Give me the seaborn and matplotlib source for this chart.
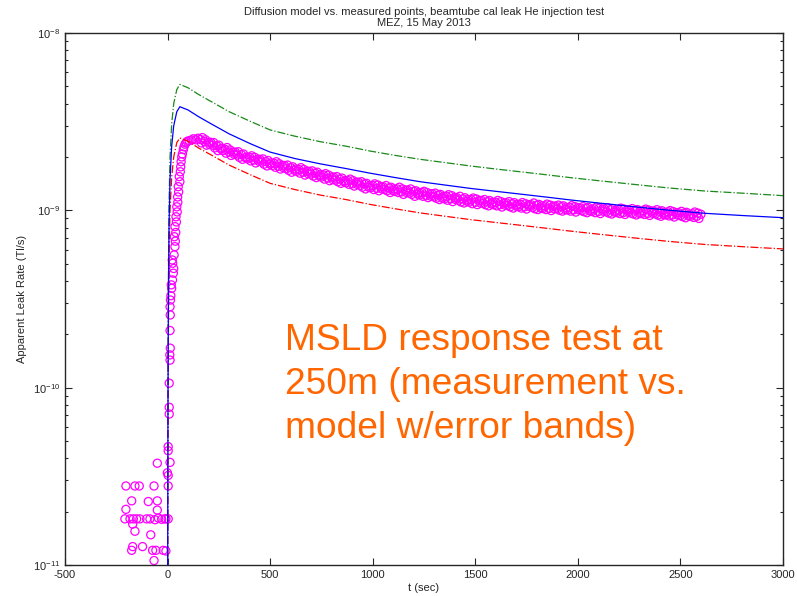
import numpy as np
import pandas as pd
import matplotlib
matplotlib.use("Agg")
import matplotlib.pyplot as plt
import seaborn as sns

# ---------------- data ----------------
# model curves (time in s, leak rate in 1e-9 Tl/s)
model_t = [0, 2, 4, 7, 12, 20, 30, 45, 60, 100, 150, 207, 300, 402, 500, 620,
           743, 870, 987, 1110, 1231, 1350, 1475, 1600, 1719, 1840, 1962,
           2100, 2300, 2450, 2620, 2800, 3000]
model_mid = [0.005, 0.08, 0.30, 0.80, 1.5, 2.3, 3.0, 3.6, 3.84, 3.68, 3.38,
             3.10, 2.70, 2.38, 2.13, 1.96, 1.83, 1.72, 1.62, 1.53, 1.45, 1.39,
             1.33, 1.28, 1.235, 1.19, 1.145, 1.10, 1.04, 1.00, 0.962, 0.935,
             0.909]
model_hi = [0.005, 0.107, 0.40, 1.07, 2.0, 3.07, 4.0, 4.8, 5.13, 4.91, 4.51,
            4.14, 3.60, 3.18, 2.84, 2.62, 2.44, 2.30, 2.16, 2.04, 1.94, 1.86,
            1.78, 1.71, 1.65, 1.59, 1.53, 1.47, 1.39, 1.335, 1.285, 1.25, 1.21]
model_lo = [0.005, 0.054, 0.20, 0.54, 1.0, 1.54, 2.0, 2.41, 2.56, 2.45, 2.25,
            2.07, 1.80, 1.59, 1.42, 1.31, 1.22, 1.15, 1.08, 1.02, 0.967,
            0.927, 0.887, 0.854, 0.824, 0.794, 0.764, 0.734, 0.694, 0.667,
            0.642, 0.624, 0.606]

# measured points before injection (t, value in 1e-11 Tl/s)
pre_t = [-203, -159, -138, -66, 3, -175, -94, -50, -203, -50,
         -208, -183, -167, -151, -135, -102, -86, -61, -45, -29, -13, -8, 3,
         -170, -159, -82, -170, -175, -122, -73, -57, -21, -8, -66,
         -50, 12, -1, 3, 3, 3]
pre_v = [2.79, 2.79, 2.79, 2.79, 2.79, 2.30, 2.28, 2.30, 2.06, 2.04,
         1.82, 1.82, 1.82, 1.82, 1.82, 1.82, 1.82, 1.80, 1.84, 1.81, 1.82, 1.82, 1.82,
         1.70, 1.55, 1.48, 1.27, 1.21, 1.27, 1.21, 1.21, 1.21, 1.20, 1.06,
         3.75, 3.79, 3.31, 3.20, 4.65, 4.41]

# rise (t, value in 1e-9 Tl/s)
rise_t = [8, 8, 8, 12, 11, 13, 12, 13, 12, 14, 16, 18, 20, 24, 28, 30, 25, 23,
          32, 36, 38, 33, 40, 36, 43, 41, 47, 45, 50, 49, 54, 52, 60, 57, 62,
          64, 66, 69, 72, 77, 80, 85, 90, 96, 105, 117, 125, 138, 148]
rise_v = [0.0775, 0.071, 0.106, 0.143, 0.153, 0.167, 0.21, 0.257, 0.286, 0.312,
          0.33, 0.38, 0.363, 0.405, 0.442, 0.47, 0.503, 0.525, 0.56, 0.624,
          0.67, 0.71, 0.75, 0.809, 0.86, 0.92, 0.98, 1.047, 1.11, 1.19, 1.27,
          1.36, 1.45, 1.55, 1.65, 1.76, 1.88, 2.0, 2.08, 2.2, 2.28, 2.36, 2.4,
          2.45, 2.47, 2.49, 2.53, 2.5, 2.55]

# decay, first sample set (t, value in 1e-9 Tl/s)
decay_t = [160, 180, 200, 220, 240, 260, 280, 300, 320, 340, 360, 380, 400,
           420, 440, 460, 480, 500, 520, 540, 560, 580, 600, 620, 640, 660,
           680, 700, 720, 740, 760, 780, 800, 820, 840, 860, 880, 900, 920,
           940, 960, 980, 1000, 1020, 1040, 1060, 1080, 1100, 1120, 1140, 1160,
           1180, 1200, 1220, 1240, 1260, 1280, 1300, 1320, 1340, 1360, 1380,
           1400, 1420, 1440, 1460, 1480, 1500, 1520, 1540, 1560, 1580, 1600,
           1620, 1640, 1660, 1680, 1700, 1720, 1740, 1760, 1780, 1800, 1820,
           1840, 1860, 1880, 1900, 1920, 1940, 1960, 1980, 2000, 2020, 2040,
           2060, 2080, 2100, 2120, 2140, 2160, 2180, 2200, 2220, 2240, 2260,
           2280, 2300, 2320, 2340, 2360, 2380, 2400, 2420, 2440, 2460, 2480,
           2500, 2520, 2540, 2560, 2580, 2600]
decay_v = [2.51, 2.44, 2.42, 2.33, 2.31, 2.22, 2.21, 2.13, 2.13, 2.05, 2.06,
           1.98, 1.99, 1.92, 1.94, 1.87, 1.88, 1.82, 1.84, 1.77, 1.79, 1.72,
           1.74, 1.68, 1.70, 1.64, 1.66, 1.60, 1.62, 1.56, 1.58, 1.52, 1.54,
           1.48, 1.50, 1.45, 1.47, 1.41, 1.44, 1.38, 1.41, 1.35, 1.38, 1.33,
           1.36, 1.31, 1.34, 1.29, 1.32, 1.27, 1.30, 1.25, 1.28, 1.23, 1.26,
           1.21, 1.24, 1.19, 1.22, 1.17, 1.20, 1.16, 1.18, 1.14, 1.16, 1.125,
           1.15, 1.11, 1.135, 1.095, 1.12, 1.085, 1.11, 1.075, 1.10, 1.065,
           1.09, 1.055, 1.08, 1.045, 1.075, 1.04, 1.07, 1.03, 1.06, 1.025,
           1.055, 1.02, 1.05, 1.01, 1.04, 1.005, 1.035, 0.995, 1.03, 0.99,
           1.02, 0.985, 1.015, 0.98, 1.01, 0.975, 1.005, 0.97, 1.005, 0.965,
           1.00, 0.96, 0.995, 0.96, 0.99, 0.955, 0.985, 0.945, 0.98, 0.94,
           0.97, 0.935, 0.965, 0.93, 0.955, 0.925, 0.95]

# decay, second (interleaved) sample set (t, value in 1e-9 Tl/s)
decay2_t = [170, 190, 210, 230, 250, 270, 290, 310, 330, 350, 370, 390, 410,
            430, 450, 470, 490, 510, 530, 550, 570, 590, 610, 630, 650, 670,
            690, 710, 730, 750, 770, 790, 810, 830, 850, 870, 890, 910, 930,
            950, 970, 990, 1010, 1030, 1050, 1070, 1090, 1110, 1130, 1150,
            1170, 1190, 1210, 1230, 1250, 1270, 1290, 1310, 1330, 1350, 1370,
            1390, 1410, 1430, 1450, 1470, 1490, 1510, 1530, 1550, 1570, 1590,
            1610, 1630, 1650, 1670, 1690, 1710, 1730, 1750, 1770, 1790, 1810,
            1830, 1850, 1870, 1890, 1910, 1930, 1950, 1970, 1990, 2010, 2030,
            2050, 2070, 2090, 2110, 2130, 2150, 2170, 2190, 2210, 2230, 2250,
            2270, 2290, 2310, 2330, 2350, 2370, 2390, 2410, 2430, 2450, 2470,
            2490, 2510, 2530, 2550, 2570, 2590]
decay2_v = [2.57, 2.33, 2.42, 2.25, 2.33, 2.17, 2.26, 2.04, 2.13, 1.99, 2.08,
            1.95, 2.03, 1.85, 1.94, 1.82, 1.91, 1.79, 1.88, 1.71, 1.79, 1.68,
            1.76, 1.66, 1.74, 1.58, 1.66, 1.56, 1.64, 1.54, 1.61, 1.47, 1.54,
            1.45, 1.52, 1.43, 1.50, 1.37, 1.44, 1.35, 1.42, 1.34, 1.41, 1.29,
            1.36, 1.29, 1.35, 1.28, 1.35, 1.23, 1.30, 1.23, 1.29, 1.22, 1.28,
            1.18, 1.24, 1.17, 1.23, 1.16, 1.225, 1.12, 1.18, 1.115, 1.177,
            1.112, 1.173, 1.077, 1.137, 1.075, 1.136, 1.076, 1.137, 1.044,
            1.105, 1.046, 1.105, 1.047, 1.106, 1.017, 1.078, 1.021, 1.080,
            1.024, 1.084, 0.997, 1.056, 1.001, 1.060, 1.005, 1.063, 0.978,
            1.035, 0.982, 1.039, 0.985, 1.042, 0.959, 1.017, 0.965, 1.023,
            0.971, 1.029, 0.948, 1.005, 0.954, 1.010, 0.959, 1.016, 0.936,
            0.991, 0.940, 0.994, 0.943, 0.997, 0.917, 0.971, 0.921, 0.974,
            0.924, 0.978, 0.900]

# decay, third (interleaved) sample set (t, value in 1e-9 Tl/s)
decay3_t = [165, 185, 205, 225, 245, 265, 285, 305, 325, 345, 365, 385, 405,
            425, 445, 465, 485, 505, 525, 545, 565, 585, 605, 625, 645, 665,
            685, 705, 725, 745, 765, 785, 805, 825, 845, 865, 885, 905, 925,
            945, 965, 985, 1005, 1025, 1045, 1065, 1085, 1105, 1125, 1145,
            1165, 1185, 1205, 1225, 1245, 1265, 1285, 1305, 1325, 1345, 1365,
            1385, 1405, 1425, 1445, 1465, 1485, 1505, 1525, 1545, 1565, 1585,
            1605, 1625, 1645, 1665, 1685, 1705, 1725, 1745, 1765, 1785, 1805,
            1825, 1845, 1865, 1885, 1905, 1925, 1945, 1965, 1985, 2005, 2025,
            2045, 2065, 2085, 2105, 2125, 2145, 2165, 2185, 2205, 2225, 2245,
            2265, 2285, 2305, 2325, 2345, 2365, 2385, 2405, 2425, 2445, 2465,
            2485, 2505, 2525, 2545, 2565, 2585]
decay3_v = [2.40, 2.50, 2.35, 2.41, 2.17, 2.24, 2.10, 2.19, 2.07, 2.14, 1.94,
            2.00, 1.90, 1.99, 1.89, 1.95, 1.78, 1.85, 1.75, 1.83, 1.74, 1.80,
            1.64, 1.71, 1.62, 1.70, 1.61, 1.67, 1.53, 1.59, 1.50, 1.58, 1.49,
            1.55, 1.42, 1.47, 1.40, 1.47, 1.40, 1.45, 1.32, 1.38, 1.31, 1.39,
            1.32, 1.38, 1.26, 1.32, 1.26, 1.32, 1.26, 1.32, 1.20, 1.26, 1.20,
            1.26, 1.20, 1.25, 1.15, 1.20, 1.14, 1.21, 1.15, 1.20, 1.10, 1.15,
            1.09, 1.16, 1.10, 1.15, 1.06, 1.11, 1.06, 1.12, 1.07, 1.12, 1.03,
            1.08, 1.03, 1.09, 1.05, 1.10, 1.01, 1.06, 1.01, 1.07, 1.02, 1.07,
            0.99, 1.035, 0.99, 1.05, 1.005, 1.05, 0.97, 1.015, 0.97, 1.03,
            0.987, 1.035, 0.953, 1.00, 0.959, 1.017, 0.975, 1.022, 0.942,
            0.989, 0.948, 1.004, 0.962, 1.008, 0.926, 0.972, 0.930, 0.984,
            0.942, 0.987, 0.908, 0.952, 0.912, 0.965]

title_text = "Diffusion model vs. measured points, beamtube cal leak He injection test\nMEZ, 15 May 2013"
xlabel_text = "t (sec)"
ylabel_text = "Apparent Leak Rate (Tl/s)"
note_text = "MSLD response test at\n250m (measurement vs.\nmodel w/error bands)"
xticks = [-500, 0, 500, 1000, 1500, 2000, 2500, 3000]

# ---------------- plotting ----------------
sns.set_style("ticks")
plt.rcParams["font.family"] = ["Liberation Sans", "DejaVu Sans"]
plt.rcParams["xtick.direction"] = "in"
plt.rcParams["ytick.direction"] = "in"
plt.rcParams["axes.linewidth"] = 1.0

fig = plt.figure(figsize=(7.97, 5.96), dpi=100)
ax = fig.add_axes([65 / 797, 31 / 596, 718 / 797, 532 / 596])

meas = pd.DataFrame({
    "t": list(pre_t) + list(rise_t) + list(decay_t) + list(decay2_t) + list(decay3_t),
    "v": [v * 1e-11 for v in pre_v] + [v * 1e-9 for v in rise_v]
         + [v * 1e-9 for v in decay_v] + [v * 1e-9 for v in decay2_v]
         + [v * 1e-9 for v in decay3_v],
})
sns.scatterplot(data=meas, x="t", y="v", ax=ax, marker="o", s=34,
                facecolors="none", edgecolor="#FF00FF", linewidth=0.9, zorder=2)

mdf = pd.DataFrame({"t": model_t,
                    "mid": [v * 1e-9 for v in model_mid],
                    "hi": [v * 1e-9 for v in model_hi],
                    "lo": [v * 1e-9 for v in model_lo]})
sns.lineplot(data=mdf, x="t", y="hi", ax=ax, color="#1a8a1a", linestyle="-.",
             linewidth=0.9, estimator=None, sort=False, zorder=3)
sns.lineplot(data=mdf, x="t", y="lo", ax=ax, color="#FF0000", linestyle="-.",
             linewidth=0.9, estimator=None, sort=False, zorder=3)
sns.lineplot(data=mdf, x="t", y="mid", ax=ax, color="#0000FF", linestyle="-",
             linewidth=0.9, estimator=None, sort=False, zorder=3)

ax.set_yscale("log")
ax.set_xlim(-500, 3000)
ax.set_ylim(1e-11, 1e-8)
ax.set_xticks(xticks)
ax.set_xticklabels([str(x) for x in xticks])
ax.tick_params(axis="both", which="both", top=True, right=True, labelsize=8, width=0.8)
ax.tick_params(axis="both", which="major", length=5)
ax.tick_params(axis="both", which="minor", length=2.5)
for sp in ax.spines.values():
    sp.set_visible(True)
    sp.set_linewidth(1.0)

ax.set_xlabel(xlabel_text, fontsize=8, labelpad=2)
ax.set_ylabel(ylabel_text, fontsize=8, labelpad=4)
ax.set_title(title_text, fontsize=8, pad=5, linespacing=1.1)

fig.text(285 / 797, 1 - 438 / 596, note_text, color="#FF6600", fontsize=26.7,
         ha="left", va="baseline", linespacing=1.33)

fig.savefig("out.png", dpi=100)
